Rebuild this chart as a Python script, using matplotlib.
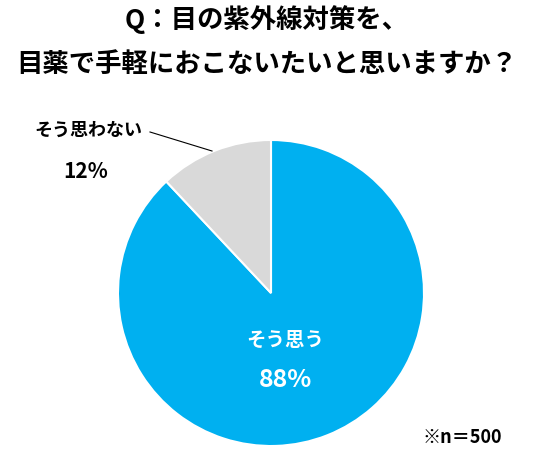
import matplotlib.pyplot as plt

plt.rcParams['font.family'] = ['Noto Sans CJK JP', 'DejaVu Sans']

labels = ['そう思う', 'そう思わない']
values = [88, 12]
colors = ['#00B0F0', '#D9D9D9']

W, H = 534, 472
fig = plt.figure(figsize=(W / 100, H / 100), dpi=100)

def px(x, y):
    return x / W, 1 - y / H

cx, cy, r = 271, 293, 153
ax = fig.add_axes([(cx - r) / W, (H - cy - r) / H, 2 * r / W, 2 * r / H])
ax.pie(values, colors=colors, startangle=90, counterclock=False,
       wedgeprops=dict(edgecolor='white', linewidth=1.5))
ax.set_xlim(-1, 1)
ax.set_ylim(-1, 1)
ax.set_aspect('equal')
ax.axis('off')

fig.text(*px(267, 20), 'Q：目の紫外線対策を、', ha='center', va='center',
         fontsize=19, fontweight='bold')
fig.text(*px(267, 64), '目薬で手軽におこないたいと思いますか？', ha='center', va='center',
         fontsize=19, fontweight='bold')

fig.text(*px(88, 130), labels[1], ha='center', va='center', fontsize=13, fontweight='bold')
fig.text(*px(86, 172), f'{values[1]}%', ha='center', va='center', fontsize=15, fontweight='bold')
fig.add_artist(plt.Line2D([150 / W, 212 / W], [1 - 132 / H, 1 - 151 / H], color='black', lw=0.8))

fig.text(*px(285, 340), labels[0], ha='center', va='center', fontsize=14,
         fontweight='bold', color='white')
fig.text(*px(285, 380), f'{values[0]}%', ha='center', va='center', fontsize=18,
         fontweight='bold', color='white')

fig.text(*px(462, 437), '※n＝500', ha='center', va='center', fontsize=13, fontweight='bold')

fig.savefig('out.png', dpi=100)
